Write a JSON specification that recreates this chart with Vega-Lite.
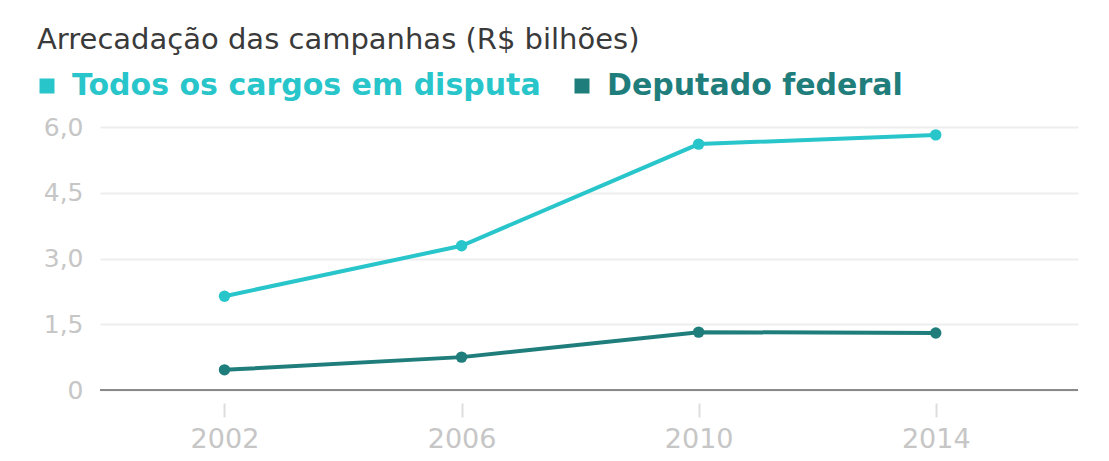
{
  "$schema": "https://vega.github.io/schema/vega-lite/v6.json",
  "width": 978,
  "height": 263,
  "autosize": {"type": "none"},
  "padding": {"left": 100, "top": 127, "right": 31, "bottom": 71},
  "background": "white",
  "title": {
    "text": "Arrecadação das campanhas (R$ bilhões)",
    "anchor": "start",
    "frame": "group",
    "dx": -63,
    "dy": 27,
    "offset": 20,
    "baseline": "alphabetic",
    "font": "DejaVu Sans",
    "fontSize": 29,
    "fontWeight": "normal",
    "color": "#3a3a3a"
  },
  "config": {
    "view": {"stroke": null},
    "font": "DejaVu Sans"
  },
  "data": {
    "values": [
      {"ano": 2002, "serie": "Todos os cargos em disputa", "valor": 2.14},
      {"ano": 2006, "serie": "Todos os cargos em disputa", "valor": 3.29},
      {"ano": 2010, "serie": "Todos os cargos em disputa", "valor": 5.61},
      {"ano": 2014, "serie": "Todos os cargos em disputa", "valor": 5.82},
      {"ano": 2002, "serie": "Deputado federal", "valor": 0.46},
      {"ano": 2006, "serie": "Deputado federal", "valor": 0.75},
      {"ano": 2010, "serie": "Deputado federal", "valor": 1.32},
      {"ano": 2014, "serie": "Deputado federal", "valor": 1.30}
    ]
  },
  "encoding": {
    "x": {
      "field": "ano",
      "type": "quantitative",
      "scale": {"domain": [1999.9, 2016.4], "nice": false, "zero": false},
      "axis": {
        "title": null,
        "values": [2002, 2006, 2010, 2014],
        "format": "d",
        "domain": false,
        "grid": false,
        "offset": 13,
        "tickSize": 14,
        "tickColor": "#dddddd",
        "tickWidth": 2,
        "labelPadding": 9,
        "labelFont": "DejaVu Sans",
        "labelFontSize": 27,
        "labelColor": "#c6c6c6"
      }
    },
    "y": {
      "field": "valor",
      "type": "quantitative",
      "scale": {"domain": [0, 6], "nice": false},
      "axis": {
        "title": null,
        "values": [0, 1.5, 3, 4.5, 6],
        "labelExpr": "datum.value == 0 ? '0' : replace(format(datum.value, '.1f'), '.', ',')",
        "domain": false,
        "ticks": false,
        "grid": true,
        "gridColor": "#eeeeee",
        "gridWidth": 2,
        "labelPadding": 17,
        "labelFont": "DejaVu Sans",
        "labelFontSize": 25,
        "labelColor": "#c6c6c6"
      }
    },
    "color": {
      "field": "serie",
      "type": "nominal",
      "sort": ["Todos os cargos em disputa", "Deputado federal"],
      "scale": {
        "domain": ["Todos os cargos em disputa", "Deputado federal"],
        "range": ["#28c5ca", "#1f7e7b"]
      },
      "legend": {
        "title": null,
        "orient": "none",
        "direction": "horizontal",
        "legendX": -68,
        "legendY": -56,
        "symbolType": "square",
        "symbolSize": 225,
        "symbolStrokeWidth": 0,
        "labelFont": "DejaVu Sans",
        "labelFontSize": 30,
        "labelFontWeight": "bold",
        "labelLimit": 700,
        "labelOffset": 10,
        "columnPadding": 26,
        "labelColor": {"expr": "datum.label == 'Deputado federal' ? '#1f7e7b' : '#28c5ca'"}
      }
    }
  },
  "layer": [
    {
      "mark": {"type": "rule", "color": "#8a8a8a", "strokeWidth": 2},
      "data": {"values": [{"zero": 0}]},
      "encoding": {
        "y": {"field": "zero", "type": "quantitative"},
        "x": null,
        "color": null
      }
    },
    {
      "mark": {"type": "line", "strokeWidth": 4},
      "encoding": {"detail": {"field": "serie"}}
    },
    {
      "mark": {"type": "point", "filled": true, "size": 130, "opacity": 1}
    }
  ]
}
